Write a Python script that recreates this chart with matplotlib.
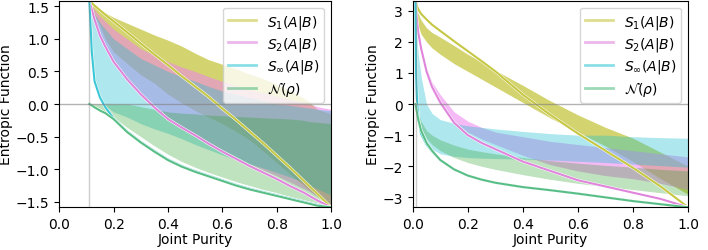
import matplotlib
matplotlib.use("Agg")
import matplotlib.pyplot as plt
import matplotlib.patheffects as pe
from matplotlib.lines import Line2D

# ---- d = 3 (left panel) ----
purity_3 = [0.111, 0.12, 0.13, 0.15, 0.17, 0.2, 0.25, 0.3, 0.35, 0.4, 0.45, 0.5,
            0.55, 0.6, 0.65, 0.7, 0.75, 0.8, 0.85, 0.9, 0.92, 0.95, 1.0]
s1_hi_3 = [1.585, 1.55, 1.51, 1.45, 1.40, 1.33, 1.24, 1.15, 1.06, 0.98, 0.89, 0.78,
           0.68, 0.61, 0.54, 0.46, 0.39, 0.30, 0.20, 0.09, 0.03, -0.08, -0.15]
s1_lo_3 = [1.585, 1.45, 1.35, 1.2, 1.0, 0.8, 0.62, 0.45, 0.32, 0.15, 0.02, -0.1,
           -0.2, -0.3, -0.42, -0.55, -0.72, -0.9, -1.08, -1.25, -1.32, -1.42, -1.55]
s2_hi_3 = [1.585, 1.5, 1.45, 1.35, 1.27, 1.15, 1.0, 0.85, 0.75, 0.65, 0.57, 0.5,
           0.42, 0.35, 0.28, 0.22, 0.17, 0.12, 0.07, 0.02, 0.0, -0.04, -0.08]
s2_lo_3 = [1.585, 1.4, 1.25, 1.05, 0.88, 0.68, 0.4, 0.17, -0.02, -0.2, -0.33, -0.46,
           -0.58, -0.7, -0.8, -0.91, -1.01, -1.1, -1.2, -1.3, -1.34, -1.42, -1.55]
sinf_hi_3 = [1.585, 1.45, 1.38, 1.25, 1.15, 1.0, 0.85, 0.7, 0.6, 0.5, 0.42, 0.35,
             0.27, 0.2, 0.15, 0.1, 0.05, 0.0, -0.02, -0.05, -0.06, -0.08, -0.1]
sinf_lo_3 = [1.585, 0.8, 0.35, 0.1, -0.03, -0.12, -0.2, -0.3, -0.38, -0.45, -0.53, -0.62,
             -0.7, -0.78, -0.85, -0.92, -0.98, -1.05, -1.12, -1.2, -1.25, -1.3, -1.4]
neg_hi_3 = [0.0, 0.0, 0.0, 0.0, 0.0, 0.0, 0.0, -0.04, -0.08, -0.12, -0.14, -0.15,
            -0.17, -0.18, -0.19, -0.2, -0.21, -0.22, -0.23, -0.25, -0.27, -0.28, -0.3]
neg_lo_3 = [0.0, -0.01, -0.03, -0.07, -0.12, -0.2, -0.36, -0.5, -0.64, -0.77, -0.88, -0.97,
            -1.05, -1.12, -1.19, -1.25, -1.31, -1.36, -1.42, -1.47, -1.49, -1.52, -1.57]
s1_bound_3 = [1.585, 1.55, 1.51, 1.44, 1.37, 1.27, 1.1, 0.93, 0.76, 0.6, 0.43, 0.27,
              0.11, -0.07, -0.24, -0.42, -0.6, -0.79, -0.98, -1.18, -1.26, -1.38, -1.585]
s2_bound_3 = [1.585, 1.45, 1.3, 1.05, 0.88, 0.65, 0.38, 0.15, -0.05, -0.23, -0.36, -0.48,
              -0.61, -0.73, -0.84, -0.95, -1.05, -1.15, -1.26, -1.36, -1.41, -1.48, -1.585]
sinf_bound_3 = [1.585, 0.8, 0.35, 0.1, -0.05, -0.22, -0.42, -0.58, -0.72, -0.85, -0.95, -1.03,
                -1.1, -1.17, -1.24, -1.3, -1.35, -1.4, -1.45, -1.5, -1.52, -1.55, -1.585]
neg_bound_3 = [0.0, -0.02, -0.05, -0.1, -0.14, -0.23, -0.43, -0.59, -0.73, -0.86, -0.96, -1.04,
               -1.11, -1.18, -1.25, -1.31, -1.36, -1.41, -1.46, -1.51, -1.53, -1.56, -1.585]

# ---- d = 10 (right panel) ----
purity_10 = [0.01, 0.012, 0.015, 0.02, 0.03, 0.05, 0.07, 0.1, 0.15, 0.2, 0.25, 0.3,
             0.4, 0.5, 0.6, 0.7, 0.8, 0.9, 1.0]
s1_hi_10 = [3.32, 3.2, 3.05, 2.9, 2.7, 2.45, 2.3, 2.15, 1.88, 1.6, 1.35, 1.08,
            0.6, 0.1, -0.35, -0.75, -1.1, -1.55, -2.0]
s1_lo_10 = [3.32, 3.0, 2.75, 2.5, 2.25, 2.0, 1.8, 1.6, 1.3, 1.05, 0.8, 0.55,
            0.05, -0.45, -0.9, -1.35, -1.85, -2.4, -2.9]
s2_hi_10 = [3.32, 3.0, 2.7, 2.35, 1.85, 1.15, 0.7, 0.3, -0.25, -0.55, -0.75, -0.9,
            -1.05, -1.2, -1.3, -1.4, -1.5, -1.6, -1.7]
s2_lo_10 = [3.32, 2.9, 2.6, 2.2, 1.7, 0.95, 0.45, -0.05, -0.55, -0.9, -1.12, -1.3,
            -1.65, -1.95, -2.15, -2.3, -2.4, -2.55, -2.75]
sinf_hi_10 = [3.32, 2.6, 2.1, 1.6, 0.9, 0.0, -0.3, -0.5, -0.62, -0.7, -0.75, -0.8,
              -0.88, -0.95, -1.0, -1.0, -1.05, -1.08, -1.1]
sinf_lo_10 = [3.32, 1.2, 0.3, -0.3, -0.85, -1.25, -1.45, -1.6, -1.68, -1.72, -1.74, -1.75,
              -1.77, -1.8, -1.84, -1.88, -1.93, -1.98, -2.03]
neg_hi_10 = [0.0, -0.05, -0.15, -0.3, -0.55, -0.85, -1.0, -1.15, -1.32, -1.45, -1.53, -1.6,
             -1.72, -1.82, -1.9, -1.97, -2.03, -2.1, -2.15]
neg_lo_10 = [0.0, -0.1, -0.25, -0.45, -0.75, -1.1, -1.3, -1.5, -1.72, -1.88, -2.0, -2.1,
             -2.27, -2.42, -2.55, -2.65, -2.75, -2.85, -2.95]
s1_bound_10 = [3.32, 3.25, 3.15, 3.05, 2.9, 2.72, 2.55, 2.35, 2.02, 1.7, 1.38, 1.05,
               0.3, -0.35, -0.95, -1.5, -2.05, -2.65, -3.32]
s2_bound_10 = [3.32, 3.0, 2.7, 2.3, 1.8, 1.05, 0.55, 0.05, -0.6, -1.0, -1.25, -1.45,
               -1.85, -2.15, -2.45, -2.65, -2.85, -3.05, -3.32]
sinf_bound_10 = [3.32, 1.0, 0.2, -0.45, -0.95, -1.3, -1.52, -1.8, -2.1, -2.3, -2.43, -2.53,
                 -2.67, -2.77, -2.88, -3.0, -3.12, -3.22, -3.32]
neg_bound_10 = [0.0, -0.1, -0.25, -0.5, -0.85, -1.25, -1.5, -1.8, -2.1, -2.3, -2.43, -2.53,
                -2.67, -2.77, -2.88, -3.0, -3.12, -3.22, -3.32]

labels = [r'$S_1(A|B)$', r'$S_2(A|B)$', r'$S_\infty(A|B)$', r'$\mathcal{N}(\rho)$']
fill_colors = ['#bcbd22', 'violet', '#17becf', '#2ca02c']
fill_alpha = [0.65, 0.55, 0.35, 0.3]
line_colors = ['#bcbd22', 'orchid', '#17becf', 'mediumseagreen']

panels = [
    dict(x=purity_3, lim=1.585, vline=1/9, ticks=[-1.5, -1.0, -0.5, 0.0, 0.5, 1.0, 1.5],
         bands=[(s1_lo_3, s1_hi_3), (s2_lo_3, s2_hi_3), (sinf_lo_3, sinf_hi_3), (neg_lo_3, neg_hi_3)],
         bounds=[s1_bound_3, s2_bound_3, sinf_bound_3, neg_bound_3]),
    dict(x=purity_10, lim=3.32, vline=1/100, ticks=[-3, -2, -1, 0, 1, 2, 3],
         bands=[(s1_lo_10, s1_hi_10), (s2_lo_10, s2_hi_10), (sinf_lo_10, sinf_hi_10), (neg_lo_10, neg_hi_10)],
         bounds=[s1_bound_10, s2_bound_10, sinf_bound_10, neg_bound_10]),
]

fig = plt.figure(figsize=(7.08, 2.51), dpi=100)
rects = [[0.0836, 0.170, 0.384, 0.823], [0.583, 0.170, 0.389, 0.823]]

stroke = [pe.Stroke(linewidth=2.2, foreground='white'), pe.Normal()]

for rect, p in zip(rects, panels):
    ax = fig.add_axes(rect)
    for (lo, hi), c, a in zip(p['bands'], fill_colors, fill_alpha):
        ax.fill_between(p['x'], lo, hi, color=c, alpha=a, linewidth=0)
    for b, c in zip(p['bounds'], line_colors):
        ax.plot(p['x'], b, color=c, lw=1.5, alpha=0.85, path_effects=stroke)
    ax.axhline(0, color='gray', lw=1, alpha=0.6)
    ax.axvline(p['vline'], color='gray', lw=1, alpha=0.4)
    ax.set_xlim(0, 1)
    ax.set_ylim(-p['lim'], p['lim'])
    ax.set_yticks(p['ticks'])
    ax.set_xticks([0.0, 0.2, 0.4, 0.6, 0.8, 1.0])
    ax.set_xlabel('Joint Purity', labelpad=1)
    ax.set_ylabel('Entropic Function', labelpad=2)
    handles = [Line2D([], [], color=c, lw=2, alpha=0.5) for c in line_colors]
    ax.legend(handles, labels, loc='upper right', labelspacing=0.3, borderpad=0.35)

fig.savefig('out.png', dpi=100)
